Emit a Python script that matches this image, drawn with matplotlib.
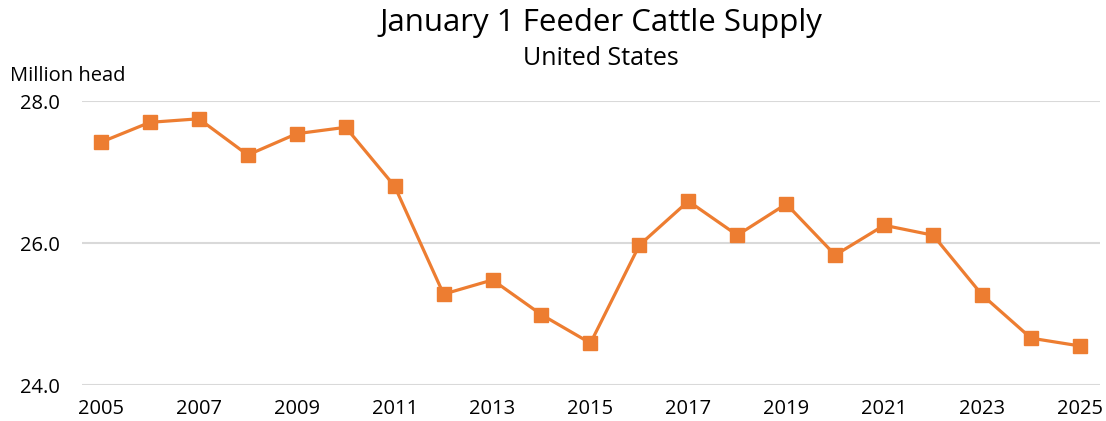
import matplotlib
matplotlib.use("Agg")
import matplotlib.pyplot as plt

# Jan 1 feeder cattle supply, million head
years = list(range(2005, 2026))
supply = [27.42, 27.70, 27.75, 27.24, 27.54, 27.63, 26.80, 25.28, 25.48, 24.99,
          24.59, 25.97, 26.59, 26.11, 26.55, 25.83, 26.25, 26.11, 25.27, 24.66, 24.55]
xticks = list(range(2005, 2026, 2))
yticks = [24.0, 26.0, 28.0]

plt.rcParams['font.family'] = ['Open Sans', 'DejaVu Sans']

fig = plt.figure(figsize=(11.06, 4.21), dpi=100)
ax = fig.add_axes([0.074, 0.0855, 0.9206, 0.6745])

ax.plot(years, supply, color="#ED7D31", linewidth=2.3, marker="s",
        markersize=9.5, markerfacecolor="#ED7D31", markeredgecolor="#ED7D31", zorder=3)

ax.set_xlim(2004.61, 2025.41)
ax.set_ylim(24, 28)
ax.set_xticks(xticks)
ax.set_xticklabels([str(y) for y in xticks])
ax.set_yticks(yticks)
ax.set_yticklabels(["%.1f" % v for v in yticks])
ax.grid(axis="y", color="#d9d9d9", linewidth=1.5)
ax.set_axisbelow(True)
for s in ax.spines.values():
    s.set_visible(False)
ax.tick_params(length=0, labelsize=14.5, colors="#000000")
ax.tick_params(axis="x", pad=10)
ax.tick_params(axis="y", pad=16)

fig.text(0.543, 0.945, "January 1 Feeder Cattle Supply", ha="center", va="center", fontsize=22.5)
fig.text(0.543, 0.86, "United States", ha="center", va="center", fontsize=18)
fig.text(0.009, 0.82, "Million head", ha="left", va="center", fontsize=14.5)

fig.savefig("out.png", dpi=100)
